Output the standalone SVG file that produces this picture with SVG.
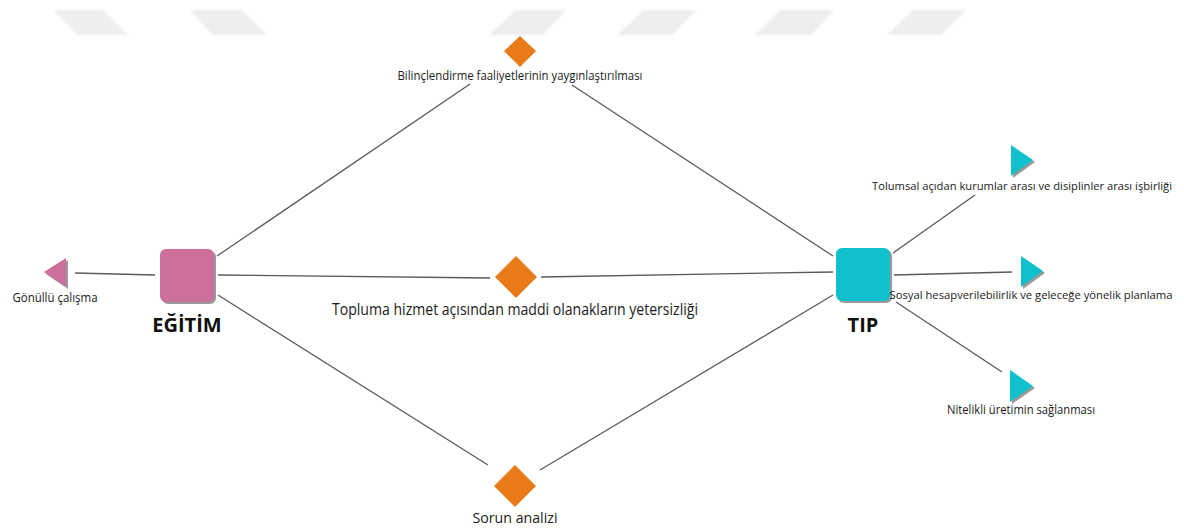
<svg xmlns="http://www.w3.org/2000/svg" width="1184" height="531" viewBox="0 0 1184 531">
<defs>
<style>
.lbl{font-family:"Open Sans","Noto Sans","DejaVu Sans",sans-serif;fill:#1a1a1a;text-anchor:middle}
.big{font-family:"Open Sans","Noto Sans","DejaVu Sans",sans-serif;font-weight:bold;fill:#111;text-anchor:middle;font-size:20px}
.edge{stroke:#5a5a5a;stroke-width:1.3;fill:none}
.wm{fill:#eeeeee}
.sh{fill:#9a9a9a}
.pink{fill:#cc6f9a}
.cyan{fill:#10c0cc}
.orange{fill:#e97a18}
</style>
<filter id="soft" x="-10%" y="-30%" width="120%" height="160%"><feGaussianBlur stdDeviation="0.8"/></filter>
</defs>
<rect width="1184" height="531" fill="#ffffff"/>
<g id="watermark" filter="url(#soft)">
<polygon class="wm" points="53,10 103,10 128,35 78,35"/>
<polygon class="wm" points="190,10 242,10 267,35 213,35"/>
<polygon class="wm" points="515,10 566,10 543,35 489,35"/>
<polygon class="wm" points="643,10 696,10 673,35 617,35"/>
<polygon class="wm" points="780,10 834,10 811,35 755,35"/>
<polygon class="wm" points="913,10 966,10 941,35 887,35"/>
</g>
<g id="connectors">
<line class="edge" x1="75" y1="273" x2="155" y2="275"/>
<line class="edge" x1="217" y1="256" x2="470" y2="84"/>
<line class="edge" x1="572" y1="85" x2="833" y2="256"/>
<line class="edge" x1="218" y1="275" x2="490" y2="278"/>
<line class="edge" x1="541" y1="277" x2="833" y2="272"/>
<line class="edge" x1="218" y1="295" x2="488" y2="465"/>
<line class="edge" x1="540" y1="470" x2="833" y2="295"/>
<line class="edge" x1="893" y1="253" x2="975" y2="195"/>
<line class="edge" x1="894" y1="275" x2="1012" y2="272"/>
<line class="edge" x1="896" y1="302" x2="1002" y2="372"/>
</g>
<g id="egitim">
<rect class="sh" x="162" y="251" width="54" height="53" rx="6"/>
<rect class="pink" x="160" y="249" width="54" height="53" rx="6"/>
<text class="big" x="187" y="332">EĞİTİM</text>
</g>
<g id="tip">
<rect class="sh" x="838" y="250" width="54" height="53" rx="6"/>
<rect class="cyan" x="836" y="248" width="54" height="53" rx="6"/>
<text class="big" x="863" y="332">TIP</text>
</g>
<g id="gonullu">
<polygon class="sh" points="46,274 68,260 68,289"/>
<polygon class="pink" points="44,272 66,258 66,287"/>
<text class="lbl" x="55" y="302" font-size="12" textLength="85" lengthAdjust="spacingAndGlyphs">Gönüllü çalışma</text>
</g>
<g id="bilinclendirme">
<polygon class="orange" points="520,36 536,51 520,67 504,51"/>
<text class="lbl" x="520" y="80" font-size="12" textLength="245" lengthAdjust="spacingAndGlyphs">Bilinçlendirme faaliyetlerinin yaygınlaştırılması</text>
</g>
<g id="topluma">
<polygon class="orange" points="516,256 537,277 516,298 495,277"/>
<text class="lbl" x="515" y="315" font-size="16" textLength="366" lengthAdjust="spacingAndGlyphs">Topluma hizmet açısından maddi olanakların yetersizliği</text>
</g>
<g id="sorun">
<polygon class="orange" points="515,465 536,486 515,507 494,486"/>
<text class="lbl" x="515" y="523" font-size="15" textLength="85" lengthAdjust="spacingAndGlyphs">Sorun analizi</text>
</g>
<g id="tolumsal">
<polygon class="sh" points="1013,147 1035,162 1013,178"/>
<polygon class="cyan" points="1011,145 1033,160 1011,176"/>
<text class="lbl" x="1022" y="190" font-size="11" textLength="300" lengthAdjust="spacingAndGlyphs">Tolumsal açıdan kurumlar arası ve disiplinler arası işbirliği</text>
</g>
<g id="sosyal">
<polygon class="sh" points="1023,258 1045,273 1023,289"/>
<polygon class="cyan" points="1021,256 1043,271 1021,287"/>
<text class="lbl" x="1031" y="299" font-size="11" textLength="283" lengthAdjust="spacingAndGlyphs">Sosyal hesapverilebilirlik ve geleceğe yönelik planlama</text>
</g>
<g id="nitelikli">
<polygon class="sh" points="1012,372 1035,388 1012,404"/>
<polygon class="cyan" points="1010,370 1033,386 1010,402"/>
<text class="lbl" x="1021" y="414" font-size="12" textLength="148" lengthAdjust="spacingAndGlyphs">Nitelikli üretimin sağlanması</text>
</g>
</svg>
